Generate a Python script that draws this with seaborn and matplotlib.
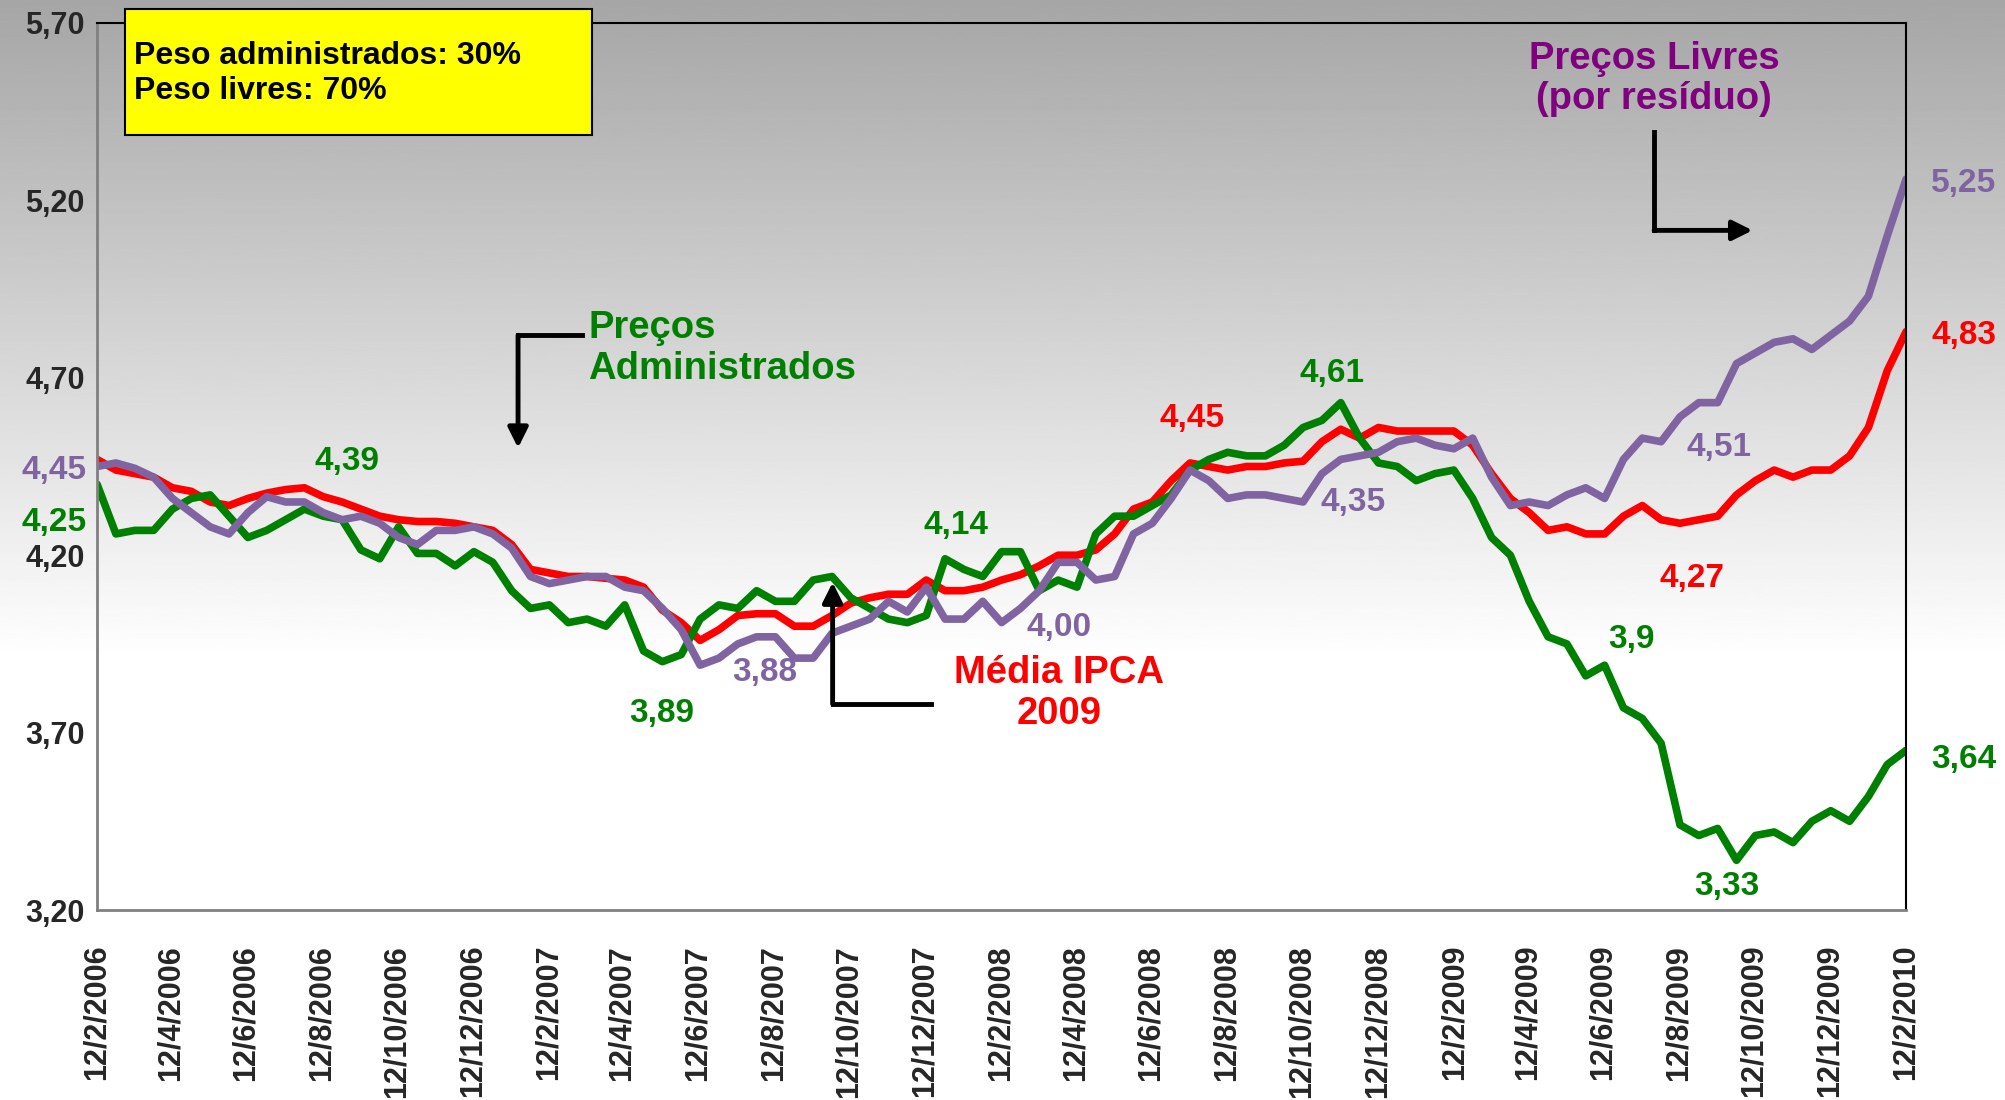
import numpy as np
import pandas as pd
import matplotlib
matplotlib.use("Agg")
import matplotlib.pyplot as plt
from matplotlib.patches import Rectangle
import seaborn as sns

# expectativas Focus para o IPCA 2009 (leitura quinzenal)
datas = pd.date_range("2006-02-12", "2010-02-12", periods=97)

media_ipca = [4.47, 4.44, 4.43, 4.42, 4.39, 4.38, 4.35, 4.34, 4.36, 4.375,
              4.385, 4.39, 4.365, 4.35, 4.33, 4.31, 4.30, 4.295, 4.295, 4.29,
              4.28, 4.27, 4.23, 4.16, 4.15, 4.14, 4.14, 4.135, 4.13, 4.11,
              4.045, 4.01, 3.96, 3.99, 4.03, 4.035, 4.035, 4.00, 4.00, 4.03,
              4.065, 4.08, 4.09, 4.09, 4.13, 4.10, 4.10, 4.11, 4.13, 4.145,
              4.17, 4.20, 4.20, 4.215, 4.26, 4.33, 4.35, 4.41, 4.46, 4.45,
              4.44, 4.45, 4.45, 4.46, 4.465, 4.52, 4.555, 4.53, 4.56, 4.55,
              4.55, 4.55, 4.55, 4.51, 4.43, 4.36, 4.32, 4.27, 4.28, 4.26,
              4.26, 4.31, 4.34, 4.30, 4.29, 4.30, 4.31, 4.37, 4.41, 4.44,
              4.42, 4.44, 4.44, 4.48, 4.56, 4.72, 4.83]

livres = [4.45, 4.46, 4.445, 4.42, 4.36, 4.32, 4.28, 4.26, 4.32, 4.365,
          4.35, 4.35, 4.32, 4.30, 4.31, 4.29, 4.25, 4.23, 4.27, 4.27,
          4.28, 4.26, 4.22, 4.14, 4.12, 4.13, 4.14, 4.14, 4.11, 4.10,
          4.05, 3.99, 3.89, 3.91, 3.95, 3.97, 3.97, 3.91, 3.91, 3.98,
          4.00, 4.02, 4.07, 4.04, 4.11, 4.02, 4.02, 4.07, 4.01, 4.05,
          4.10, 4.18, 4.18, 4.13, 4.14, 4.26, 4.29, 4.36, 4.44, 4.41,
          4.36, 4.37, 4.37, 4.36, 4.35, 4.43, 4.47, 4.48, 4.49, 4.52,
          4.53, 4.51, 4.50, 4.53, 4.42, 4.34, 4.35, 4.34, 4.37, 4.39,
          4.36, 4.47, 4.53, 4.52, 4.59, 4.63, 4.63, 4.74, 4.77, 4.80,
          4.81, 4.78, 4.82, 4.86, 4.93, 5.10, 5.26]

administrados = [4.40, 4.26, 4.27, 4.27, 4.33, 4.36, 4.37, 4.31, 4.25, 4.27,
                 4.30, 4.33, 4.31, 4.30, 4.215, 4.19, 4.28, 4.205, 4.205, 4.17,
                 4.21, 4.18, 4.10, 4.05, 4.06, 4.01, 4.02, 4.00, 4.06, 3.93,
                 3.90, 3.92, 4.02, 4.06, 4.05, 4.10, 4.07, 4.07, 4.13, 4.14,
                 4.08, 4.05, 4.02, 4.01, 4.03, 4.19, 4.16, 4.14, 4.21, 4.21,
                 4.10, 4.13, 4.11, 4.26, 4.31, 4.31, 4.34, 4.37, 4.44, 4.47,
                 4.49, 4.48, 4.48, 4.51, 4.56, 4.58, 4.63, 4.53, 4.46, 4.45,
                 4.41, 4.43, 4.44, 4.36, 4.25, 4.20, 4.07, 3.97, 3.95, 3.86,
                 3.89, 3.77, 3.74, 3.67, 3.44, 3.41, 3.43, 3.34, 3.41, 3.42,
                 3.39, 3.45, 3.48, 3.45, 3.52, 3.61, 3.65]

series = ["Média IPCA 2009", "Preços Administrados", "Preços Livres"]
cores = {"Média IPCA 2009": "#ff0000",
         "Preços Administrados": "#008000",
         "Preços Livres": "#8064a2"}

ticks_x = pd.date_range("2006-02-12", periods=25, freq=pd.DateOffset(months=2))
rotulos_x = ["12/2/2006", "12/4/2006", "12/6/2006", "12/8/2006", "12/10/2006",
             "12/12/2006", "12/2/2007", "12/4/2007", "12/6/2007", "12/8/2007",
             "12/10/2007", "12/12/2007", "12/2/2008", "12/4/2008", "12/6/2008",
             "12/8/2008", "12/10/2008", "12/12/2008", "12/2/2009", "12/4/2009",
             "12/6/2009", "12/8/2009", "12/10/2009", "12/12/2009", "12/2/2010"]
ticks_y = [3.20, 3.70, 4.20, 4.70, 5.20, 5.70]
rotulos_y = ["3,20", "3,70", "4,20", "4,70", "5,20", "5,70"]

# rótulos de valores: (texto, série, x, y) em fração dos eixos
rotulos_valores = [
    ("4,45", "Preços Livres", -0.024, 0.495),
    ("4,25", "Preços Administrados", -0.024, 0.437),
    ("4,39", "Preços Administrados", 0.138, 0.506),
    ("3,89", "Preços Administrados", 0.312, 0.222),
    ("3,88", "Preços Livres", 0.369, 0.268),
    ("4,14", "Preços Administrados", 0.4745, 0.434),
    ("4,00", "Preços Livres", 0.532, 0.319),
    ("4,45", "Média IPCA 2009", 0.6054, 0.554),
    ("4,61", "Preços Administrados", 0.6825, 0.605),
    ("4,35", "Preços Livres", 0.6945, 0.459),
    ("4,51", "Preços Livres", 0.8967, 0.521),
    ("4,27", "Média IPCA 2009", 0.8819, 0.374),
    ("3,9", "Preços Administrados", 0.848, 0.3045),
    ("3,33", "Preços Administrados", 0.901, 0.026),
    ("5,25", "Preços Livres", 1.0318, 0.8196),
    ("4,83", "Média IPCA 2009", 1.0318, 0.648),
    ("3,64", "Preços Administrados", 1.0318, 0.170),
]

df = pd.DataFrame({
    "data": np.tile(datas, 3),
    "valor": media_ipca + administrados + livres,
    "serie": np.repeat(series, len(datas)),
})

sns.set_style("white")
plt.rcParams["font.family"] = ["Liberation Sans", "DejaVu Sans"]
plt.rcParams["font.weight"] = "bold"

fig = plt.figure(figsize=(20.06, 11), dpi=100)

# fundo em degradê cinza -> branco
bg = fig.add_axes([0, 0, 1, 1], zorder=-10)
t = np.linspace(0, 1, 400)
grad = np.clip(0.65 + 0.35 * t / 0.6, 0, 1).reshape(-1, 1)
bg.imshow(grad, cmap="gray", vmin=0, vmax=1, aspect="auto", extent=[0, 1, 0, 1])
bg.axis("off")

ax = fig.add_axes([0.0484, 0.1727, 0.9018, 0.8064])
ax.set_facecolor("none")

sns.lineplot(data=df, x="data", y="valor", hue="serie", hue_order=series,
             palette=cores, linewidth=5.5, legend=False, ax=ax)

ax.set_xlim(datas[0], datas[-1])
ax.set_ylim(3.20, 5.70)
ax.set_xticks(ticks_x)
ax.set_xticklabels(rotulos_x, rotation=90, fontsize=22, fontweight="bold")
ax.set_yticks(ticks_y)
ax.set_yticklabels(rotulos_y, fontsize=22, fontweight="bold")
ax.set_xlabel("")
ax.set_ylabel("")
ax.tick_params(axis="x", direction="out", length=9, width=1.5, color="#808080", pad=16)
ax.tick_params(axis="y", direction="out", length=6, width=1.5, color="#808080", pad=3)

for lado in ["left", "bottom"]:
    ax.spines[lado].set_color("#808080")
    ax.spines[lado].set_linewidth(2)
for lado in ["top", "right"]:
    ax.spines[lado].set_color("black")
    ax.spines[lado].set_linewidth(1.5)

# caixa amarela
ax.add_patch(Rectangle((0.0156, 0.874), 0.2581, 0.142, transform=ax.transAxes,
                       facecolor="#ffff00", edgecolor="black", linewidth=1.5,
                       clip_on=False, zorder=5))
ax.text(0.0205, 0.943, "Peso administrados: 30%\nPeso livres: 70%",
        transform=ax.transAxes, fontsize=23, fontweight="bold", color="black",
        va="center", ha="left", linespacing=1.2, zorder=6)

# títulos das séries
ax.text(0.2716, 0.633, "Preços\nAdministrados", transform=ax.transAxes,
        fontsize=27.5, fontweight="bold", color="#008000", ha="left", va="center",
        linespacing=1.15)
ax.text(0.532, 0.244, "Média IPCA\n2009", transform=ax.transAxes,
        fontsize=27.5, fontweight="bold", color="#ff0000", ha="center", va="center",
        linespacing=1.15)
ax.text(0.8607, 0.9365, "Preços Livres\n(por resíduo)", transform=ax.transAxes,
        fontsize=27.5, fontweight="bold", color="#800080", ha="center", va="center",
        linespacing=1.15)

# setas em cotovelo
setas = [
    [(0.268, 0.648), (0.2327, 0.648), (0.2327, 0.521)],
    [(0.461, 0.2323), (0.4066, 0.2323), (0.4066, 0.3694)],
    [(0.8607, 0.8773), (0.8607, 0.7662), (0.9151, 0.7662)],
]
for p0, p1, p2 in setas:
    ax.plot([p0[0], p1[0]], [p0[1], p1[1]], color="black", linewidth=3.5,
            transform=ax.transAxes, solid_capstyle="projecting", clip_on=False)
    ax.annotate("", xy=p2, xytext=p1, xycoords="axes fraction",
                textcoords="axes fraction",
                arrowprops=dict(arrowstyle="-|>", color="black", lw=3.5,
                                mutation_scale=30, shrinkA=0, shrinkB=0))

for texto, serie, x, y in rotulos_valores:
    cor = cores[serie]
    ax.text(x, y, texto, transform=ax.transAxes, fontsize=24, fontweight="bold",
            color=cor, ha="center", va="center", clip_on=False)

fig.savefig("out.png", dpi=100)
